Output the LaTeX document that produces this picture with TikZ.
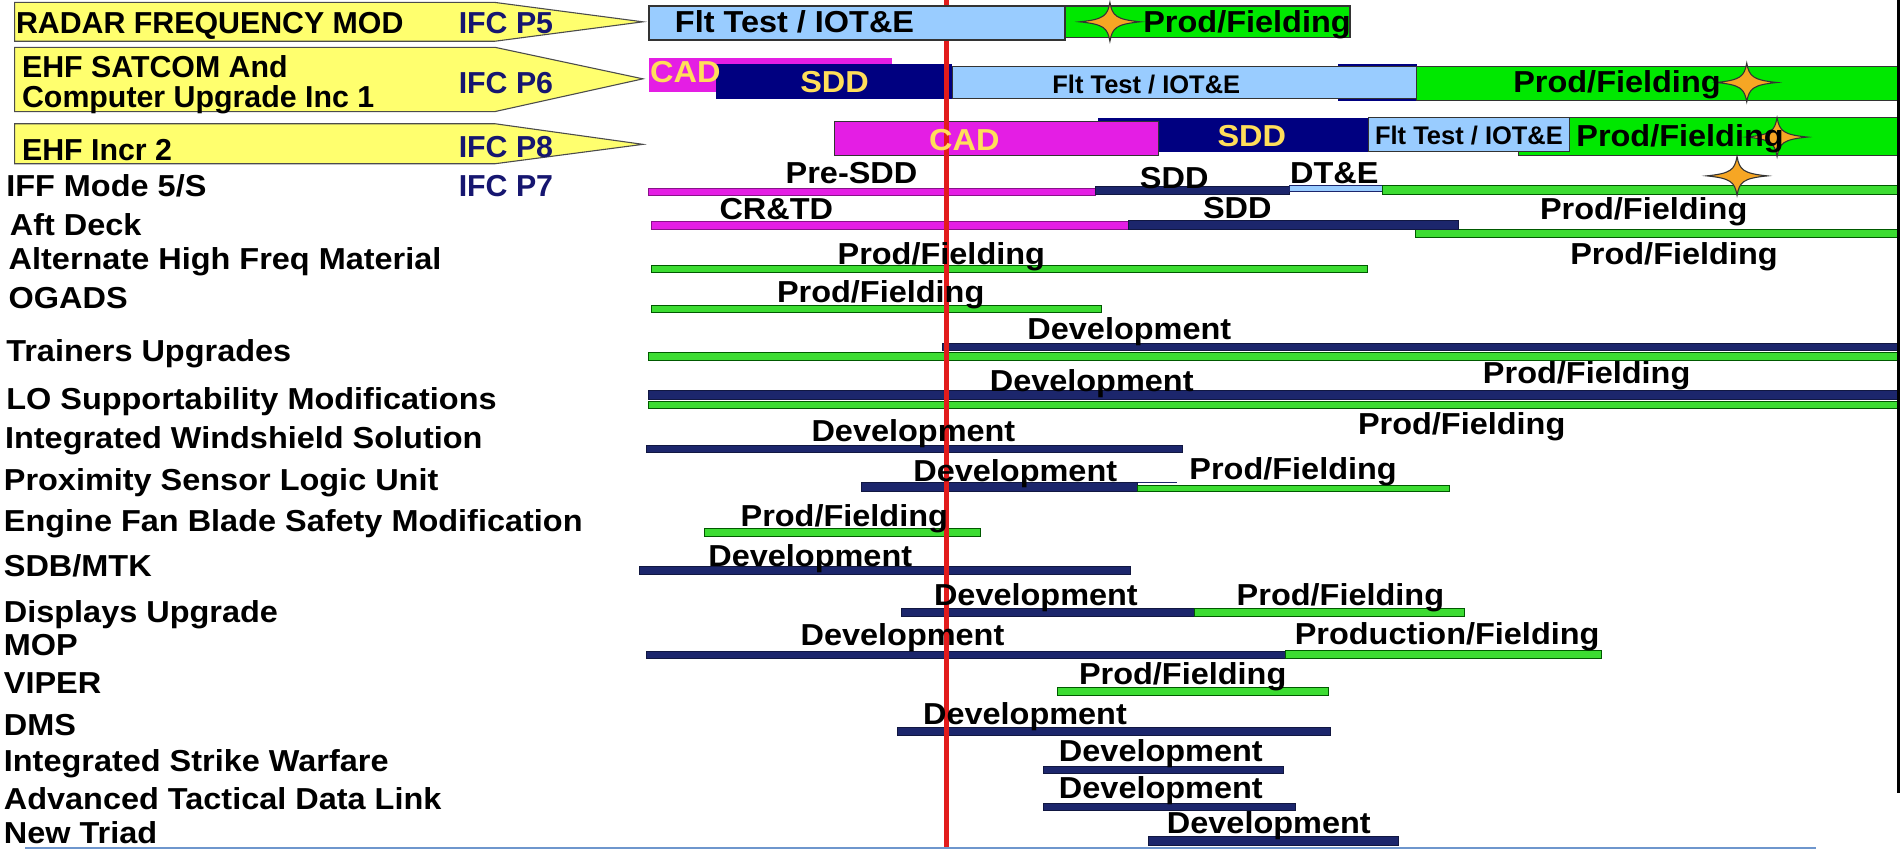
\documentclass[tikz,border=0pt]{standalone}
\usepackage{fontspec}
\setmainfont{Liberation Sans}
\newfontfamily\widesans{Liberation Sans}[FakeStretch=1.07]
\definecolor{navyA}{RGB}{0,0,128}
\definecolor{navyB}{RGB}{28,38,108}
\definecolor{grnA}{RGB}{0,232,0}
\definecolor{grnB}{RGB}{60,220,50}
\definecolor{magA}{RGB}{228,30,228}
\definecolor{ltb}{RGB}{153,204,255}
\definecolor{ylw}{RGB}{255,255,110}
\definecolor{cadtxt}{RGB}{255,222,90}
\definecolor{ifc}{RGB}{22,22,112}
\definecolor{redl}{RGB}{226,28,28}
\definecolor{starc}{RGB}{246,166,36}
\definecolor{baseln}{RGB}{110,150,205}
\begin{document}
\begin{tikzpicture}[x=1pt,y=-1pt,
  hdr/.style={font=\fontsize{25}{25}\selectfont\bfseries, anchor=base west, inner sep=0pt},
  ifclab/.style={hdr, text=ifc},
  lab/.style={font=\fontsize{25}{25}\selectfont\widesans\bfseries, anchor=base west, inner sep=0pt},
  ph/.style={font=\fontsize{25}{25}\selectfont\widesans\bfseries, anchor=base, inner sep=0pt},
  phs/.style={font=\fontsize{21}{21}\selectfont\bfseries, anchor=base, inner sep=0pt},
  phy/.style={ph, text=cadtxt},
  arrowbox/.style={fill=ylw, draw=black!70, line width=0.9pt},
  bigbox/.style={draw=black!80, line width=1pt},
  thin/.style={line width=0.8pt},
  nav/.style={thin, fill=navyB, draw=navyB!60!black},
  grn/.style={thin, fill=grnB, draw=black!65!green},
  mag/.style={thin, fill=magA, draw=magA!60!black},
  lbl/.style={thin, fill=ltb, draw=navyB},
  spark/.pic={\draw[fill=starc, draw=black!80, line width=0.9pt]
     (-25,0) .. controls (-5,-2) and (-2,-5) .. (0,-16)
     .. controls (2,-5) and (5,-2) .. (25,0)
     .. controls (5,2) and (2,5) .. (0,16)
     .. controls (-2,5) and (-5,2) .. (-25,0) -- cycle;}
]
\useasboundingbox (0,0) rectangle (1568,700);
\fill[white] (0,0) rectangle (1568,700);

% --- arrow-shaped headers of the three lead programmes
\draw[arrowbox] (12,2) -- (408,2) -- (530,18) -- (408,34) -- (12,34) -- cycle;
\draw[arrowbox] (12,39) -- (408,39) -- (530,65) -- (408,92) -- (12,92) -- cycle;
\draw[arrowbox] (12,102) -- (408,102) -- (530,119) -- (408,135) -- (12,135) -- cycle;

% --- thin bars (drawn before the status line)
% IFF Mode 5/S
\path[mag] (535,155) rectangle (903,161);
\path[nav] (903,154) rectangle (1063,160);
\path[lbl] (1063,153) rectangle (1140,158);
\path[grn] (1140,153) rectangle (1566,160);
% Aft Deck
\path[mag] (537,183) rectangle (930,189);
\path[grn] (1167,189) rectangle (1566,196);
\path[nav] (930,182) rectangle (1202,189);
% Alternate High Freq Material, OGADS
\path[grn] (537,219) rectangle (1127,225);
\path[grn] (537,252) rectangle (908,258);
% Trainers Upgrades
\path[nav] (777,283) rectangle (1566,289);
\path[grn] (535,291) rectangle (1566,297);
% LO Supportability Modifications
\path[nav] (535,322) rectangle (1566,329);
\path[grn] (535,331) rectangle (1566,337);
% Integrated Windshield Solution
\path[nav] (533,367) rectangle (975,373);
% Proximity Sensor Logic Unit
\path[nav] (710,398) rectangle (938,405);
\path[grn] (938,400) rectangle (1195,405);
\draw[navyB, line width=1pt] (938,397.5) -- (970,397.5);
% Engine Fan Blade Safety Modification
\path[grn] (581,436) rectangle (808,442);
% SDB/MTK
\path[nav] (527,467) rectangle (932,474);
% Displays Upgrade
\path[nav] (743,502) rectangle (985,508);
\path[grn] (985,502) rectangle (1207,508);
% MOP
\path[nav] (533,537) rectangle (1060,543);
\path[grn] (1060,536) rectangle (1320,543);
% VIPER, DMS, ISW, ATDL, New Triad
\path[grn] (872,567) rectangle (1095,573);
\path[nav] (740,600) rectangle (1097,606);
\path[nav] (860,632) rectangle (1058,638);
\path[nav] (860,662) rectangle (1068,668);
\path[nav] (947,690) rectangle (1153,697);

% --- wide phase boxes of the lead programmes
% EHF SATCOM
\fill[magA] (535,48) rectangle (735,76);
\fill[navyA] (1103,53) rectangle (1168,83);
\fill[navyA] (590,53) rectangle (785,82);
\path[bigbox, fill=ltb] (785,55) rectangle (1168,81);
\path[bigbox, fill=grnA] (1168,55) rectangle (1566,83);
% EHF Incr 2
\path[bigbox, fill=grnA] (1252,97) rectangle (1566,128);
\fill[navyA] (905,97) rectangle (1130,125);
\path[bigbox, fill=magA] (688,100) rectangle (955,128);
\path[bigbox, fill=ltb] (1128,97) rectangle (1294,125);

% --- status line
\coordinate (nowtop) at (780,0);
\coordinate (nowbot) at (780,700);
\draw[redl, line width=4pt] (nowtop) -- (nowbot);

% RADAR FREQUENCY MOD boxes sit over the line
\path[bigbox, fill=ltb] (535,5) rectangle (878,33);
\path[bigbox, fill=grnA] (878,5) rectangle (1113,31);

% --- frame edges
\coordinate (rt) at (1565,0);
\coordinate (rb) at (1565,654);
\draw[black, line width=3pt] (rt) -- (rb);
\coordinate (bl) at (21,699);
\coordinate (br) at (1497,699);
\draw[baseln, line width=1.5pt] (bl) -- (br);

% --- milestone stars
\pic (m1) at (915,18) {spark};
\pic (m2) at (1440,68) {spark};
\pic (m3) at (1465,113) {spark};
\pic (m4) at (1432,145) {spark};

% --- header texts
\node[hdr] (radar) at (13,28) {RADAR FREQUENCY MOD};
\node[ifclab] (p5) at (378,28) {IFC P5};
\node[hdr] (ehf1a) at (18,64) {EHF SATCOM And};
\node[hdr] (ehf1b) at (18,89) {Computer Upgrade Inc 1};
\node[ifclab] (p6) at (378,77) {IFC P6};
\node[hdr] (ehf2) at (18,132) {EHF Incr 2};
\node[ifclab] (p8) at (378,130) {IFC P8};
\node[ifclab] (p7) at (378,162) {IFC P7};

% --- programme names
\node[lab] (iff) at (5,162) {IFF Mode 5/S};
\node[lab] (aft) at (8,194) {Aft Deck};
\node[lab] (ahf) at (7,222) {Alternate High Freq Material};
\node[lab] (ogads) at (7,254) {OGADS};
\node[lab] (trn) at (5,298) {Trainers Upgrades};
\node[lab] (lo) at (5,338) {LO Supportability Modifications};
\node[lab] (iws) at (4,370) {Integrated Windshield Solution};
\node[lab] (psl) at (3,404) {Proximity Sensor Logic Unit};
\node[lab] (efb) at (3,438) {Engine Fan Blade Safety Modification};
\node[lab] (sdb) at (3,475) {SDB/MTK};
\node[lab] (dsp) at (3,513) {Displays Upgrade};
\node[lab] (mop) at (3,540) {MOP};
\node[lab] (vip) at (3,572) {VIPER};
\node[lab] (dms) at (3,606) {DMS};
\node[lab] (isw) at (3,636) {Integrated Strike Warfare};
\node[lab] (atd) at (3,667) {Advanced Tactical Data Link};
\node[lab] (ntr) at (3,695) {New Triad};

% --- phase labels
\node[ph] (t1a) at (655,27) {Flt Test / IOT\&E};
\node[ph] (t1b) at (1028,27) {Prod/Fielding};
\node[phy] (t2a) at (565,68) {CAD};
\node[phy] (t2b) at (688,76) {SDD};
\node[phs] (t2c) at (945,77) {Flt Test / IOT\&E};
\node[ph] (t2d) at (1333,76) {Prod/Fielding};
\node[phy] (t3a) at (795,124) {CAD};
\node[phy] (t3b) at (1032,121) {SDD};
\node[phs] (t3c) at (1211,119) {Flt Test / IOT\&E};
\node[ph] (t3d) at (1385,121) {Prod/Fielding};
\node[ph] (t4a) at (702,151) {Pre-SDD};
\node[ph] (t4b) at (968,155) {SDD};
\node[ph] (t4c) at (1100,151) {DT\&E};
\node[ph] (t5a) at (640,181) {CR\&TD};
\node[ph] (t5b) at (1020,180) {SDD};
\node[ph] (t5c) at (1355,181) {Prod/Fielding};
\node[ph] (t6a) at (776,218) {Prod/Fielding};
\node[ph] (t6b) at (1380,218) {Prod/Fielding};
\node[ph] (t7a) at (726,249) {Prod/Fielding};
\node[ph] (t8a) at (931,280) {Development};
\node[ph] (t8b) at (1308,316) {Prod/Fielding};
\node[ph] (t9a) at (900,323) {Development};
\node[ph] (t9b) at (1205,358) {Prod/Fielding};
\node[ph] (t10) at (753,364) {Development};
\node[ph] (t11a) at (837,397) {Development};
\node[ph] (t11b) at (1066,395) {Prod/Fielding};
\node[ph] (t12) at (696,434) {Prod/Fielding};
\node[ph] (t13) at (668,467) {Development};
\node[ph] (t14a) at (854,499) {Development};
\node[ph] (t14b) at (1105,499) {Prod/Fielding};
\node[ph] (t15a) at (744,532) {Development};
\node[ph] (t15b) at (1193,531) {Production/Fielding};
\node[ph] (t16) at (975,564) {Prod/Fielding};
\node[ph] (t17) at (845,597) {Development};
\node[ph] (t18) at (957,628) {Development};
\node[ph] (t19) at (957,658) {Development};
\node[ph] (t20) at (1046,687) {Development};
\end{tikzpicture}
\end{document}
